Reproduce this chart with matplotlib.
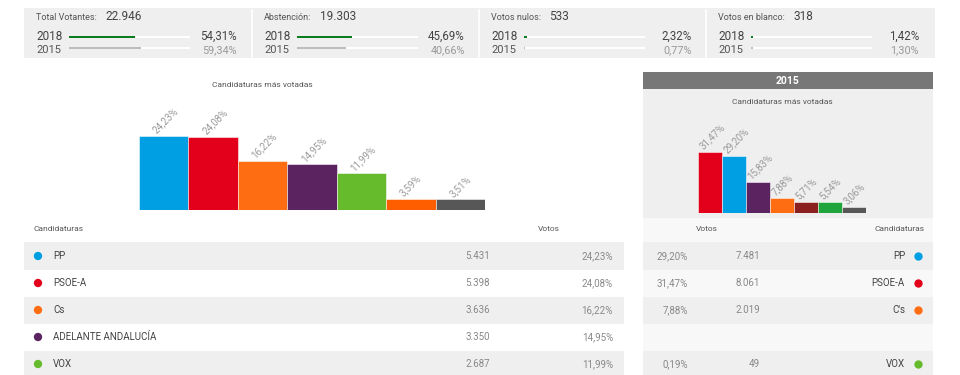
import matplotlib
matplotlib.use("Agg")
import matplotlib.pyplot as plt
from matplotlib.patches import Rectangle

plt.rcParams['font.family'] = ['Roboto', 'DejaVu Sans']

# ---------------- data ----------------
summary_labels = ["Total Votantes:", "Abstención:", "Votos nulos:", "Votos en blanco:"]
summary_values = [22946, 19303, 533, 318]
summary_pct_2018 = [54.31, 45.69, 2.32, 1.42]
summary_pct_2015 = [59.34, 40.66, 0.77, 1.30]

chart_2018_pct = [24.23, 24.08, 16.22, 14.95, 11.99, 3.59, 3.51]
chart_2018_colors = ["#009fe3", "#e2001a", "#ff6d12", "#5b2360", "#66bb2c", "#ff5e00", "#575757"]
chart_2015_pct = [31.47, 29.20, 15.83, 7.88, 5.71, 5.54, 3.06]
chart_2015_colors = ["#e2001a", "#009fe3", "#5b2360", "#ff6d12", "#8c2020", "#1fa53b", "#575757"]

table_parties = ["PP", "PSOE-A", "Cs", "ADELANTE ANDALUCÍA", "VOX"]
table_colors = ["#009fe3", "#e2001a", "#ff6d12", "#5b2360", "#66bb2c"]
table_votes_2018 = [5431, 5398, 3636, 3350, 2687]
table_pct_2018 = [24.23, 24.08, 16.22, 14.95, 11.99]
table_parties_2015 = ["PP", "PSOE-A", "C's", None, "VOX"]
table_votes_2015 = [7481, 8061, 2019, None, 49]
table_pct_2015 = [29.20, 31.47, 7.88, None, 0.19]

W, H = 960, 375
fig = plt.figure(figsize=(W / 100, H / 100), dpi=100)
fig.patch.set_facecolor("white")


def pct(v):
    return f"{v:.2f}".replace(".", ",") + "%"


def num(v):
    return f"{v:,}".replace(",", ".")


def px_axes(x, y, w, h, z=1):
    ax = fig.add_axes([x / W, 1 - (y + h) / H, w / W, h / H], zorder=z)
    ax.set_axis_off()
    ax.patch.set_alpha(0)
    return ax


# background axes in pixel coordinates
bg = fig.add_axes([0, 0, 1, 1], zorder=0)
bg.set_xlim(0, W)
bg.set_ylim(H, 0)
bg.set_axis_off()

# ---------------- top summary panel ----------------
bg.add_patch(Rectangle((24, 8), 911, 50, color="#efefef", lw=0))
for xd in [252, 479, 706]:
    bg.plot([xd, xd], [10, 57], color="white", lw=1.2)

sec_x = [36, 264, 491, 718]
val_x = [105, 320, 549, 793]
for i, lab in enumerate(summary_labels):
    x0 = sec_x[i]
    bg.text(x0, 17.5, lab, fontsize=6.5, color="#555555", va="center", ha="left")
    bg.text(val_x[i], 16.5, num(summary_values[i]), fontsize=8.5, color="#444444",
            va="center", ha="left")
    bg.text(x0, 36, "2018", fontsize=8.5, color="#444444", va="center", ha="left")
    bg.text(x0, 50, "2015", fontsize=8, color="#555555", va="center", ha="left")
    bg.text(x0 + 201, 36, pct(summary_pct_2018[i]), fontsize=8.3, color="#444444",
            va="center", ha="right")
    bg.text(x0 + 201, 50, pct(summary_pct_2015[i]), fontsize=7.8, color="#999999",
            va="center", ha="right")
    bax = px_axes(x0 + 33, 30, 121, 25, z=2)
    bax.set_xlim(0, 100)
    bax.set_ylim(1.6, -0.6)
    bax.barh([0, 1], [100, 100], height=0.14, color="white", lw=0)
    bax.barh([0], [summary_pct_2018[i]], height=0.2, color="#0b7d1e", lw=0)
    bax.barh([1], [summary_pct_2015[i]], height=0.16, color="#bdbdbd", lw=0)

# ---------------- main 2018 chart ----------------
bg.text(262, 85, "Candidaturas más votadas", fontsize=6, color="#555555",
        ha="center", va="center")
scale1 = 3.05  # px per percent
ax1 = px_axes(139, 110, 346, 100, z=2)
ax1.set_xlim(-0.5, len(chart_2018_pct) - 0.5)
ax1.set_ylim(0, 100 / scale1)
ax1.bar(range(len(chart_2018_pct)), chart_2018_pct, width=1.0,
        color=chart_2018_colors, edgecolor=(1, 1, 1, 0.6), linewidth=0.6)
for i, v in enumerate(chart_2018_pct):
    ax1.text(i - 0.12, v + 0.2, pct(v), rotation=45, rotation_mode="anchor",
             ha="left", va="bottom", fontsize=7, color="#999999", clip_on=False)

# ---------------- right 2015 panel ----------------
bg.add_patch(Rectangle((643, 72), 290, 17, color="#777777", lw=0))
bg.add_patch(Rectangle((643, 89), 290, 129, color="#efefef", lw=0))
bg.add_patch(Rectangle((643, 218), 290, 157, color="#f8f8f8", lw=0))
bg.text(788, 80.5, "2015", fontsize=7.5, fontweight="bold", color="white",
        ha="center", va="center")
bg.text(782, 102, "Candidaturas más votadas", fontsize=6, color="#555555",
        ha="center", va="center")
scale2 = 1.94
ax2 = px_axes(698, 113, 168, 100, z=2)
ax2.set_xlim(-0.5, len(chart_2015_pct) - 0.5)
ax2.set_ylim(0, 100 / scale2)
ax2.bar(range(len(chart_2015_pct)), chart_2015_pct, width=1.0,
        color=chart_2015_colors, edgecolor=(1, 1, 1, 0.6), linewidth=0.6)
for i, v in enumerate(chart_2015_pct):
    ax2.text(i - 0.22, v + 0.4, pct(v), rotation=45, rotation_mode="anchor",
             ha="left", va="bottom", fontsize=7, color="#999999", clip_on=False)

# ---------------- left table ----------------
row_h = 27
n = len(table_parties)
t1 = px_axes(24, 216, 600, 159, z=2)
t1.set_xlim(0, 600)
top_row = -1 - (229 - 216) / row_h
t1.set_ylim(top_row + 159 / row_h, top_row)
for i in range(n):
    if i % 2 == 0:
        t1.barh(i, 600, left=0, height=1.0, color="#efefef", lw=0, zorder=0)
t1.text(9, -1, "Candidaturas", fontsize=6, color="#555555", va="center", ha="left")
t1.text(514, -1, "Votos", fontsize=6, color="#555555", va="center", ha="left")
t1.scatter([14] * n, range(n), s=36, c=table_colors, zorder=3, lw=0)
for i in range(n):
    t1.text(29, i, table_parties[i], fontsize=7, color="#444444", va="center", ha="left")
    t1.text(466, i, num(table_votes_2018[i]), fontsize=7, color="#888888",
            va="center", ha="right")
    t1.text(589, i, pct(table_pct_2018[i]), fontsize=7, color="#888888",
            va="center", ha="right")

# ---------------- right table ----------------
t2 = px_axes(643, 216, 290, 159, z=2)
t2.set_xlim(0, 290)
t2.set_ylim(top_row + 159 / row_h, top_row)
for i in range(n):
    if i % 2 == 0:
        t2.barh(i, 290, left=0, height=1.0, color="#efefef", lw=0, zorder=0)
t2.text(64, -1, "Votos", fontsize=6, color="#555555", va="center", ha="center")
t2.text(282, -1, "Candidaturas", fontsize=6, color="#555555", va="center", ha="right")
for i in range(n):
    if table_parties_2015[i] is None:
        continue
    t2.text(45, i, pct(table_pct_2015[i]), fontsize=7, color="#888888",
            va="center", ha="right")
    t2.text(117, i, num(table_votes_2015[i]), fontsize=7, color="#888888",
            va="center", ha="right")
    t2.text(262, i, table_parties_2015[i], fontsize=7, color="#444444",
            va="center", ha="right")
    t2.scatter([275], [i], s=36, color=table_colors[i], zorder=3, lw=0)

fig.savefig("out.png", dpi=100, facecolor="white")
